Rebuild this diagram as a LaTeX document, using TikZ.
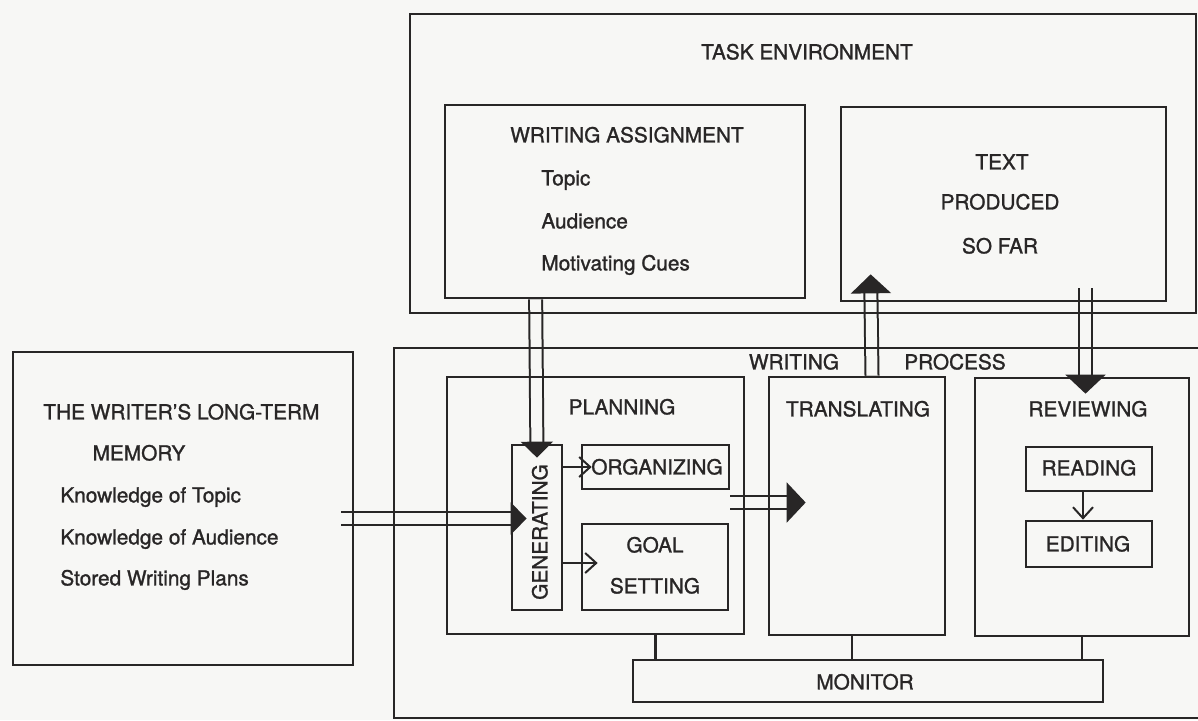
\documentclass[tikz,border=0pt]{standalone}
\usepackage{fontspec}
\setmainfont{TeX Gyre Heros}[UprightFeatures={FakeBold=1.2}]
\usetikzlibrary{arrows.meta, calc, backgrounds}
\definecolor{ink}{RGB}{40,38,38}
\definecolor{paper}{RGB}{247,247,245}
\tikzset{
  box/.style={rectangle, draw=ink, line width=1.35pt, inner sep=0pt},
  lbl/.style={font=\fontsize{10.4}{12}\selectfont, text=ink, inner sep=0pt,
              text height=7.4pt, text depth=0pt},
  bigarrow/.style={draw=ink, line width=1pt, double=paper, double distance=5.5pt,
              -{Triangle[length=8pt, width=16pt]}},
  widearrow/.style={bigarrow, -{Triangle[length=9.5pt, width=20pt]}},
  smallarrow/.style={draw=ink, line width=1pt, -{Straight Barb[length=5.5pt, width=10pt]}},
  link/.style={draw=ink, line width=1.35pt},
}

\begin{document}
\begin{tikzpicture}[x=0.5pt, y=-0.5pt]
  \useasboundingbox (0,0) rectangle (1198,720);

  % boxes
  \node[box, minimum width=393pt, minimum height=149.5pt] (taskenv) at (803,163.5) {};
  \node[box, minimum width=180pt, minimum height=96.5pt] (assign) at (625,201.5) {};
  \node[box, minimum width=162.5pt, minimum height=97pt] (sofar) at (1003.5,204) {};
  \node[box, minimum width=410pt, minimum height=185pt] (process) at (804,533) {};
  \node[box, minimum width=170pt, minimum height=156.5pt] (ltm) at (183,508.5) {};
  \node[box, minimum width=148.5pt, minimum height=128.5pt] (planning) at (595.5,505.5) {};
  \node[box, minimum width=25pt, minimum height=82.5pt] (generating) at (537,527.5) {};
  \node[box, minimum width=73.5pt, minimum height=22pt] (organizing) at (655.5,467) {};
  \node[box, minimum width=73pt, minimum height=43pt] (goal) at (655,567) {};
  \node[box, minimum width=88pt, minimum height=129pt] (translating) at (857,506) {};
  \node[box, minimum width=107pt, minimum height=129pt] (reviewing) at (1082,507) {};
  \node[box, minimum width=63pt, minimum height=22pt] (reading) at (1089,469) {};
  \node[box, minimum width=63pt, minimum height=23pt] (editing) at (1089,544) {};
  \node[box, minimum width=235pt, minimum height=21pt] (monitor) at (868,681) {};

  % labels
  \node[lbl] (taskenvlbl) at (807,52) {TASK ENVIRONMENT};
  \node[lbl] (assignlbl) at (627,135) {WRITING ASSIGNMENT};
  \node[lbl, anchor=west] (topic) at (541,178) {Topic};
  \node[lbl, anchor=west] (audience) at (541,221) {Audience};
  \node[lbl, anchor=west] (cues) at (541,263) {Motivating Cues};
  \node[lbl] (sofarlbl1) at (1002,162) {TEXT};
  \node[lbl] (sofarlbl2) at (1000,202) {PRODUCED};
  \node[lbl] (sofarlbl3) at (1000,246) {SO FAR};
  \node[lbl] (processlbl1) at (794,362) {WRITING};
  \node[lbl] (processlbl2) at (955,362) {PROCESS};
  \node[lbl, anchor=west] (ltmlbl1) at (43,412) {THE WRITER'S LONG-TERM};
  \node[lbl] (ltmlbl2) at (139,453) {MEMORY};
  \node[lbl, anchor=west] (ktopic) at (60,495) {Knowledge of Topic};
  \node[lbl, anchor=west] (kaudience) at (60,537) {Knowledge of Audience};
  \node[lbl, anchor=west] (plans) at (60,578) {Stored Writing Plans};
  \node[lbl] (planninglbl) at (622,407) {PLANNING};
  \node[lbl, rotate=90] (generatinglbl) at (540,532) {GENERATING};
  \node[lbl] (organizinglbl) at (657,467) {ORGANIZING};
  \node[lbl] (goallbl1) at (655,545) {GOAL};
  \node[lbl] (goallbl2) at (655,586) {SETTING};
  \node[lbl] (translatinglbl) at (858,409) {TRANSLATING};
  \node[lbl] (reviewinglbl) at (1088,409) {REVIEWING};
  \node[lbl] (readinglbl) at (1089,468) {READING};
  \node[lbl] (editinglbl) at (1088,544) {EDITING};
  \node[lbl] (monitorlbl) at (865,682) {MONITOR};

  % double arrows under the boxes
  \begin{scope}[on background layer]
    \fill[paper] (0,0) rectangle (1198,720);
    \draw[bigarrow] ($(ltm.east)+(-13,10)$) -- ($(generating.west)+(16,-9)$);
    \draw[bigarrow] ($(assign.south west)+(92,0)$) -- ($(generating.north)+(0,14)$);
    \draw[widearrow] ($(planning.east)+(-15,-3)$) -- ($(translating.west)+(38,-3.5)$);
    \draw[widearrow] ($(translating.north)+(15,0)$) -- ($(sofar.south west)+(31,-28)$);
    \draw[widearrow] ($(sofar.south)+(82,-14)$) -- ($(reviewing.north)+(3.5,17)$);
  \end{scope}

  \draw[smallarrow] (generating.east |- organizing.west) -- ($(organizing.west)+(11,0)$);
  \draw[smallarrow] ($(generating.east)+(0,35.5)$) -- ($(goal.west)+(17,-4)$);
  \draw[smallarrow] ($(reading.south)+(-6,0)$) -- ($(editing.north)+(-6,0)$);

  % links to monitor
  \draw[link] ($(planning.south)+(60,0)$) coordinate (p1) -- (p1 |- monitor.north);
  \draw[link] ($(translating.south)+(-5,0)$) coordinate (p2) -- (p2 |- monitor.north);
  \draw[link] (reviewing.south) -- (reviewing.south |- monitor.north);
\end{tikzpicture}
\end{document}
